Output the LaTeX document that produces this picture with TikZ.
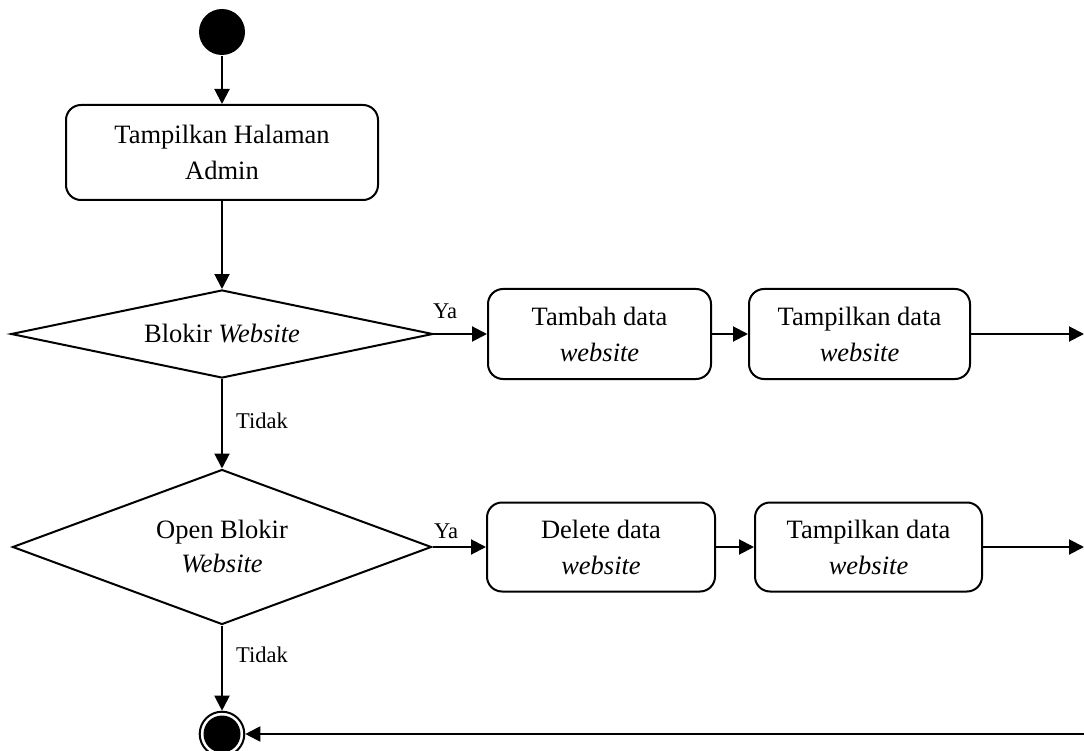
\documentclass[tikz,border=0pt]{standalone}
\usepackage{fontspec}
\setmainfont{Liberation Serif}
\usetikzlibrary{shapes.geometric,arrows.meta}
\begin{document}
\begin{tikzpicture}[x=1pt,y=-1pt,
  every path/.style={line width=2pt},
  act/.style={draw, rounded corners=15pt, line width=2pt, align=center, inner sep=0pt,
    font=\fontsize{26.5}{36}\selectfont},
  dec/.style={draw, diamond, line width=2pt, align=center, inner sep=0pt,
    font=\fontsize{26.5}{34}\selectfont},
  lbl/.style={font=\fontsize{22.5}{26}\selectfont, inner sep=0pt},
  flow/.style={-{Triangle[length=15pt,width=15pt]}, line width=2pt}]
\useasboundingbox (0,0) rectangle (1084,751);
\node[circle, fill=black, minimum size=46pt, inner sep=0pt] (start) at (222,32) {};
\node[act, minimum width=312pt, minimum height=95pt] (b1) at (222,152.5) {Tampilkan Halaman\\Admin};
\node[dec, aspect=4.8, minimum width=422pt, minimum height=88pt] (d1) at (222,334) {Blokir \textit{Website}};
\node[act, minimum width=223pt, minimum height=90pt] (b2) at (599.5,334) {Tambah data\\\textit{website}};
\node[act, minimum width=221pt, minimum height=90pt] (b3) at (859.5,334) {Tampilkan data\\\textit{website}};
\node[dec, aspect=2.7, minimum width=419pt, minimum height=155pt] (d2) at (222,547) {Open Blokir\\\textit{Website}};
\node[act, minimum width=228pt, minimum height=89pt] (b4) at (601,547) {Delete data\\\textit{website}};
\node[act, minimum width=227pt, minimum height=89pt] (b5) at (868.5,547) {Tampilkan data\\\textit{website}};
\node[circle, draw, line width=2pt, minimum size=44.6pt, inner sep=0pt,
  path picture={\fill[black] (path picture bounding box.center) circle (18.5pt);}] (end) at (222,734) {};
\coordinate (e1) at (1084,334);
\coordinate (e2) at (1084,547);
\coordinate (e3) at (1084,734);
\draw[flow] (start) -- (b1);
\draw[flow] (b1) -- (d1);
\draw[flow] (d1.east) -- (b2.west);
\draw[flow] (b2) -- (b3);
\draw[flow] (b3) -- (e1);
\draw[flow] (d1.south) -- (d2.north);
\draw[flow] (d2.east) -- (b4.west);
\draw[flow] (b4) -- (b5);
\draw[flow] (b5) -- (e2);
\draw[flow] (d2.south) -- (end.north);
\draw[flow] (e3) -- (end.east);
\node[lbl] (ya1) at (445,311) {Ya};
\node[lbl] (ya2) at (446,531) {Ya};
\node[lbl] (t1) at (262,421) {Tidak};
\node[lbl] (t2) at (262,655) {Tidak};
\end{tikzpicture}
\end{document}
